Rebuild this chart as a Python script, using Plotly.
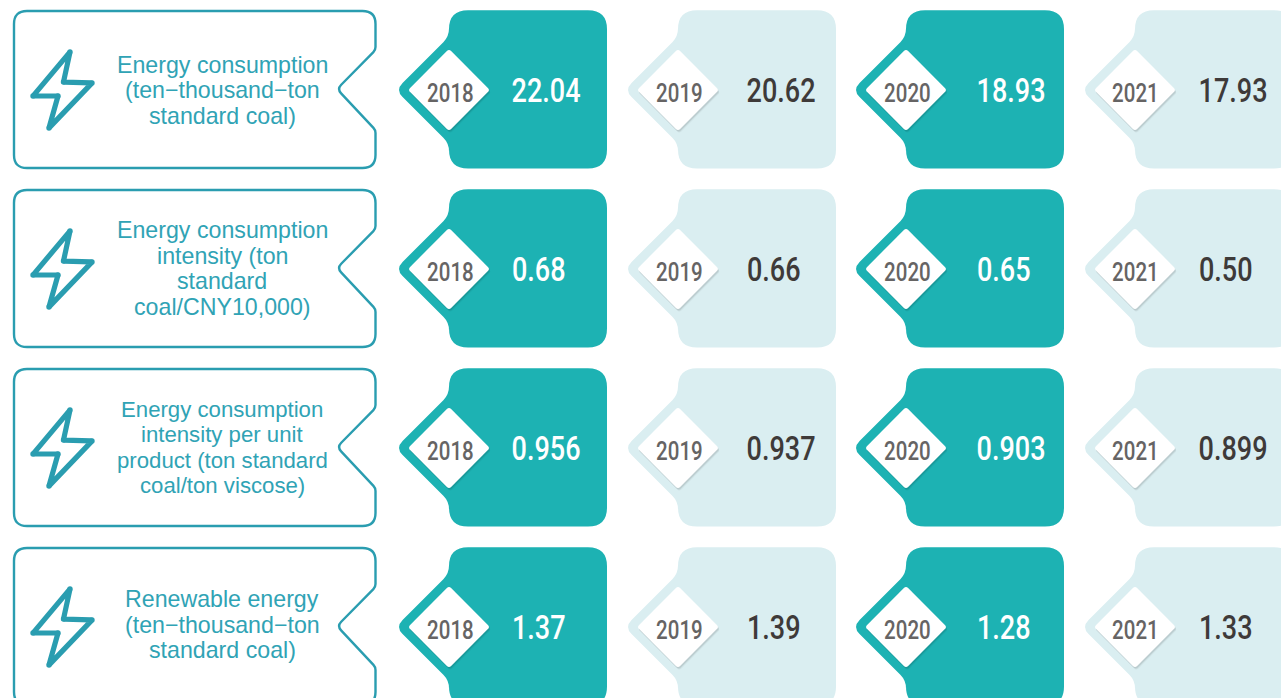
import math
import plotly.graph_objects as go

# ---- data ----
years = ["2018", "2019", "2020", "2021"]
metric_lines = [
    ["Energy consumption", "(ten−thousand−ton", "standard coal)"],
    ["Energy consumption", "intensity (ton", "standard", "coal/CNY10,000)"],
    ["Energy consumption", "intensity per unit", "product (ton standard", "coal/ton viscose)"],
    ["Renewable energy", "(ten−thousand−ton", "standard coal)"],
]
energy_consumption = ["22.04", "20.62", "18.93", "17.93"]
energy_intensity = ["0.68", "0.66", "0.65", "0.50"]
unit_product_intensity = ["0.956", "0.937", "0.903", "0.899"]
renewable_energy = ["1.37", "1.39", "1.28", "1.33"]
rows = [energy_consumption, energy_intensity, unit_product_intensity, renewable_energy]

# ---- layout and style ----
W, H = 1281, 698
ROW_TOP = [11, 190, 369, 548]
LABEL_SHIFT = [1, 0.5, 0.3, -1.5]
LABEL_SIZE = [23.2, 23.2, 22.2, 23.2]
ROW_H = 157
CARD_LEFT = [449, 678, 906, 1135]
CARD_W = 158
VALUE_OFFSET = [62.5, 68.5, 70.5, 63.5]
VALUE_SIZE = 33
CONDENSE = 0.82
YEAR_OFFSET = [1, 1, 1, 0]
TEAL = "#1DB2B3"
PALE = "#DAEEF1"
STROKE = "#2A9DB0"
LABEL = "#30A3B5"
DARK = "#3E3A39"
YEAR = "#666464"
DIGITS = "Roboto, sans-serif"
SANS = "Liberation Sans, Arial, sans-serif"


def rounded(points):
    """SVG path of a closed polygon; each point is (x, y, tangent length)."""
    n = len(points)
    d = []
    for i, (x, y, r) in enumerate(points):
        px, py, _ = points[i - 1]
        nx, ny, _ = points[(i + 1) % n]
        a = math.hypot(px - x, py - y)
        b = math.hypot(nx - x, ny - y)
        s = (x + (px - x) * r / a, y + (py - y) * r / a)
        e = (x + (nx - x) * r / b, y + (ny - y) * r / b)
        d.append(f"{'M' if i == 0 else 'L'}{s[0]:.2f},{s[1]:.2f} Q{x:.2f},{y:.2f} {e[0]:.2f},{e[1]:.2f}")
    return " ".join(d) + " Z"


def value_width(text):
    """Approximate drawn width of a condensed value label."""
    em = sum(0.265 if ch == "." else 0.565 for ch in text)
    return em * VALUE_SIZE * CONDENSE


shapes = []
annotations = []


def add_path(points, fill=None, line=None, width=0, opacity=1):
    shapes.append(dict(type="path", path=rounded(points), xref="x", yref="y",
                       fillcolor=fill or "rgba(0,0,0,0)", opacity=opacity,
                       line=dict(color=line or "rgba(0,0,0,0)", width=width), layer="above"))


def add_text(x, y, text, size, color, font, weight=400):
    annotations.append(dict(x=x, y=y, xref="x", yref="y", text=text, showarrow=False,
                            xanchor="center", yanchor="middle",
                            font=dict(size=size, color=color, family=font, weight=weight)))


for top, lines, values, shift, lsize in zip(ROW_TOP, metric_lines, rows, LABEL_SHIFT, LABEL_SIZE):
    mid = top + 79
    # label box with notch
    add_path([(14, top, 13), (375.5, top, 13), (375.5, mid - 40, 3), (337, mid - 1, 6),
              (375.5, mid + 40, 3), (375.5, top + ROW_H, 13), (14, top + ROW_H, 13)],
             line=STROKE, width=2.4)
    # bolt icon
    bolt = [(70, top + 41, 1.5), (63.5, top + 71, 1), (92, top + 72, 1.5),
            (49, top + 117, 1.5), (58, top + 85, 1), (33, top + 85, 1.5)]
    add_path(bolt, line=STROKE, width=5.2)
    for bx, by, _ in bolt:
        shapes.append(dict(type="circle", xref="x", yref="y", x0=bx - 2.7, x1=bx + 2.7,
                           y0=by - 2.7, y1=by + 2.7, fillcolor=STROKE, line=dict(width=0), layer="above"))
    # label text
    y0 = mid - 25.5 * (len(lines) - 1) / 2
    for k, line_text in enumerate(lines):
        add_text(222, y0 + 25.5 * k + shift - 1, line_text, lsize, LABEL, SANS)
    # year cards
    for c, (left, year, val) in enumerate(zip(CARD_LEFT, years, values)):
        dark = c % 2 == 0
        t, b = top - 0.8, top + ROW_H + 0.6
        add_path([(left, t, 19), (left + CARD_W, t, 19), (left + CARD_W, b, 19),
                  (left, b, 19), (left, mid + 53.5, 8), (left - 53.5, mid, 10), (left, mid - 53.5, 8)],
                 fill=TEAL if dark else PALE)
        for off, op in ((2.5, 0.05), (1.5, 0.09)):
            add_path([(left + off * 0.5, mid - 41 + off, 3), (left + 41 + off * 0.5, mid + off, 3),
                      (left + off * 0.5, mid + 41 + off, 3), (left - 41 + off * 0.5, mid + off, 3)],
                     fill="#000000", opacity=op)
        add_path([(left, mid - 41, 3), (left + 41, mid, 3), (left, mid + 41, 3), (left - 41, mid, 3)],
                 fill="#FFFFFF")
        add_text(left + YEAR_OFFSET[c], mid + 3, year, 25, YEAR, DIGITS, 500)
        add_text(left + VALUE_OFFSET[c] + value_width(val) / 2, mid, val, VALUE_SIZE,
                 "#FFFFFF" if dark else DARK, DIGITS, 500)

fig = go.Figure()
fig.update_layout(
    width=W, height=H, autosize=False, margin=dict(l=0, r=0, t=0, b=0),
    paper_bgcolor="white", plot_bgcolor="white", showlegend=False,
    xaxis=dict(range=[0, W], visible=False, fixedrange=True),
    yaxis=dict(range=[H, 0], visible=False, fixedrange=True),
    shapes=shapes, annotations=annotations,
)

# The reference's digits are a condensed face; no condensed font is installed,
# so the Roboto digit labels are narrowed in place (they stay real SVG text).
condense = """
document.body.style.margin='0';document.body.style.overflow='hidden';
document.querySelectorAll('.annotation-text').forEach(function(el){
  if(!/^[0-9.]+$/.test(el.textContent)) return;
  var cx=parseFloat(el.getAttribute('x'))||0, old=el.getAttribute('transform')||'';
  el.setAttribute('transform',old+' translate('+cx+' 0) scale(%s 1) translate('+(-cx)+' 0)');
});
""" % CONDENSE
fig.write_html("out.html", config=dict(displayModeBar=False), post_script=condense)
